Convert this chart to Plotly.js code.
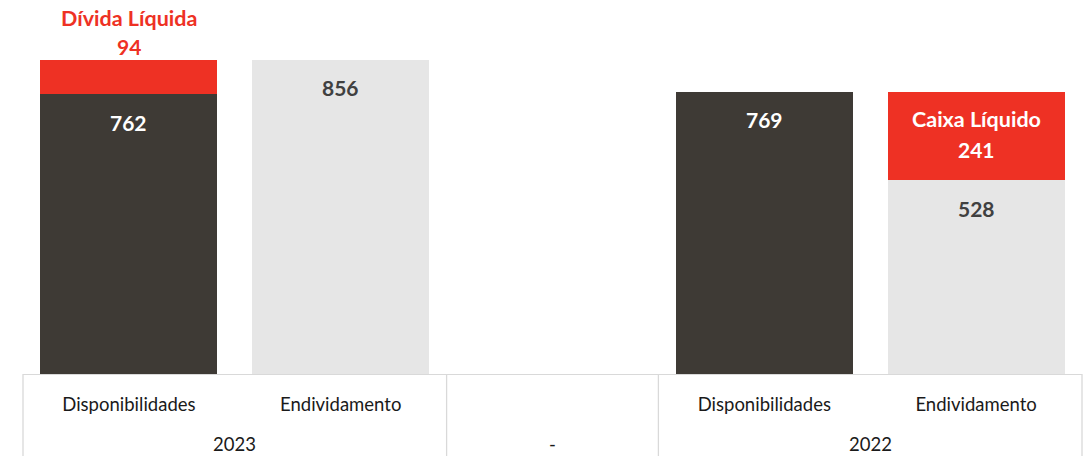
<!DOCTYPE html>
<html><head><meta charset="utf-8">
<script src="https://cdn.plot.ly/plotly-3.0.1.min.js"></script>
<style>html,body{margin:0;padding:0;background:#fff;}#chart{width:1092px;height:456px;}</style>
</head><body><div id="chart"></div>
<script>
// Data
const categories = ["Disponibilidades", "Endividamento", "", "Disponibilidades", "Endividamento"];
const groups = ["2023", "-", "2022"];
const groupMembers = [[0, 1], [2], [3, 4]];
const baseValues = [762, 856, null, 769, 528];
const redValues = [94, null, null, null, 241];
const redLabels = ["Dívida Líquida", "", "", "", "Caixa Líquido"];

const DARK = "#3E3A35", LIGHT = "#E6E6E6", RED = "#EE3124", TXT = "#404040";
const baseColors = ["dark", "light", "light", "dark", "light"].map(c => c === "dark" ? DARK : LIGHT);
const xs = categories.map((_, i) => i);
const FONT = "Lato, 'Open Sans', sans-serif";

const traces = [
  {type: "bar", x: xs, y: baseValues, marker: {color: baseColors}, hoverinfo: "skip"},
  {type: "bar", x: xs, y: redValues, marker: {color: RED}, hoverinfo: "skip"}
];

const annotations = [];
baseValues.forEach((v, i) => {
  if (v == null) return;
  annotations.push({x: i, y: v, xref: "x", yref: "y", text: "<b>" + v + "</b>", showarrow: false,
    yanchor: "middle", yshift: -28,
    font: {family: FONT, size: 21, color: baseColors[i] === DARK ? "#FFFFFF" : TXT}});
});
redValues.forEach((v, i) => {
  if (v == null) return;
  const top = baseValues[i] + v;
  const outside = i === 0;
  const col = outside ? RED : "#FFFFFF";
  annotations.push({x: i, y: top, xref: "x", yref: "y", text: "<b>" + redLabels[i] + "</b>", showarrow: false,
    yanchor: "middle", yshift: outside ? 42 : -27, font: {family: FONT, size: 21.5, color: col}});
  annotations.push({x: i, y: top, xref: "x", yref: "y", text: "<b>" + v + "</b>", showarrow: false,
    yanchor: "middle", yshift: outside ? 13 : -58, font: {family: FONT, size: 21, color: col}});
});
groups.forEach((g, gi) => {
  const m = groupMembers[gi];
  const cx = (m[0] + m[m.length - 1]) / 2;
  annotations.push({x: cx, y: 0, xref: "x", yref: "paper", text: g, showarrow: false,
    yanchor: "middle", yshift: -70, font: {family: FONT, size: 18.5, color: "#1a1a1a"}});
});

const n = categories.length;
const shapes = [];
const bounds = [0];
groupMembers.forEach(m => bounds.push(m[m.length - 1] + 1));
bounds.forEach(b => {
  shapes.push({type: "line", xref: "paper", yref: "paper", x0: b / n, x1: b / n, y0: 0, y1: -0.23,
    line: {color: "#D9D9D9", width: 1.3}});
});

const layout = {
  width: 1092, height: 456,
  margin: {l: 23, r: 10, t: 10, b: 82},
  barmode: "stack", bargap: 0.165, showlegend: false,
  paper_bgcolor: "#fff", plot_bgcolor: "#fff",
  xaxis: {range: [-0.5, n - 0.5], tickvals: xs, ticktext: categories, showgrid: false, zeroline: false,
    showline: true, linecolor: "#D9D9D9", linewidth: 1.3, ticks: "", ticklabelstandoff: 13,
    tickfont: {family: FONT, size: 18.5, color: "#1a1a1a"}, fixedrange: true},
  yaxis: {range: [0, 992], visible: false, fixedrange: true},
  annotations: annotations, shapes: shapes
};
Plotly.newPlot("chart", traces, layout, {displayModeBar: false, staticPlot: true});
</script></body></html>
